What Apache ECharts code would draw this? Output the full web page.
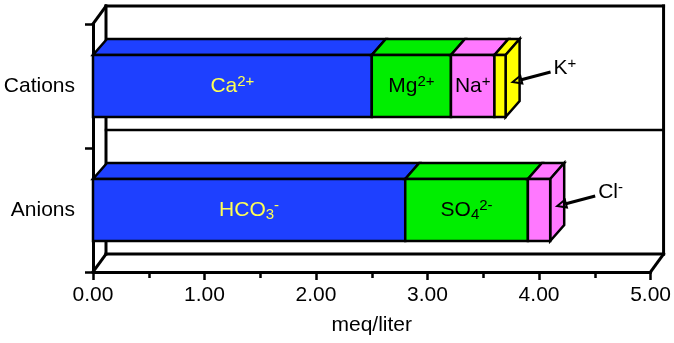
<!DOCTYPE html>
<html>
<head>
<meta charset="utf-8">
<script src="https://cdn.jsdelivr.net/npm/echarts@6/dist/echarts.min.js"></script>
<style>
  html, body { margin: 0; padding: 0; background: #fff; }
  #chart { width: 674px; height: 343px; }
</style>
</head>
<body>
<div id="chart"></div>
<script>
// Ion balance: stacked milliequivalents per litre
const categories = ['Anions', 'Cations'];

const cationLabels = ['{b|Ca}{sup|2+}', '{b|Mg}{sup|2+}', '{b|Na}{sup|+}', '{b|K}{sup|+}'];
const cationValues = [2.50, 0.71, 0.39, 0.10];

const anionLabels = ['{b|HCO}{sub|3}{sup|-}', '{b|SO}{sub|4}{sup|2-}', '{b|Cl}{sup|-}'];
const anionValues = [2.80, 1.10, 0.20];

const xTicks = [0, 1, 2, 3, 4, 5];

// Styling
const FONT = 'Liberation Sans, Arial, Helvetica, sans-serif';
const FS = 21;
const cationColors = ['#1e40ff', '#00ee00', '#ff78ff', '#ffff00'];
const anionColors = ['#1e40ff', '#00ee00', '#ff78ff'];
const cationText = ['#ffff55', '#000', '#000', '#000'];
const anionText = ['#ffff55', '#000', '#000'];
const BAR_RATIO = 0.5;
const BAR_DX = 14, BAR_DY = -16;     // bar depth offset
const WALL_DX = 13, WALL_DY = -18;   // frame depth offset

const rich = {
  b: { fontSize: FS, lineHeight: 24, fontFamily: FONT },
  sup: { fontSize: 15, lineHeight: 16, verticalAlign: 'top', fontFamily: FONT },
  sub: { fontSize: 15, lineHeight: 10, verticalAlign: 'bottom', fontFamily: FONT }
};

// Build stacked segments: [start, end, categoryIndex, segmentIndex]
function stackSegments(values, catIndex) {
  const out = [];
  let acc = 0;
  values.forEach((v, i) => {
    out.push([acc, acc + v, catIndex, i]);
    acc += v;
  });
  return out;
}
const segments = stackSegments(anionValues, 0).concat(stackSegments(cationValues, 1));

const groups = [
  { labels: anionLabels, colors: anionColors, text: anionText, n: anionValues.length },
  { labels: cationLabels, colors: cationColors, text: cationText, n: cationValues.length }
];

function renderBar(params, api) {
  const ci = api.value(2), si = api.value(3);
  const g = groups[ci];
  const p0 = api.coord([api.value(0), ci]);
  const p1 = api.coord([api.value(1), ci]);
  const h = api.size([0, 1])[1] * BAR_RATIO;
  const x0 = p0[0], x1 = p1[0];
  const yt = p0[1] - h / 2, yb = yt + h;
  const fill = g.colors[si];
  const st = { fill: fill, stroke: '#000', lineWidth: 2.5, lineJoin: 'miter' };
  const children = [];
  children.push({
    type: 'polygon',
    shape: { points: [[x0, yt], [x1, yt], [x1 + BAR_DX, yt + BAR_DY], [x0 + BAR_DX, yt + BAR_DY]] },
    style: st
  });
  const last = si === g.n - 1;
  if (last) {
    children.push({
      type: 'polygon',
      shape: { points: [[x1, yt], [x1 + BAR_DX, yt + BAR_DY], [x1 + BAR_DX, yb + BAR_DY], [x1, yb]] },
      style: st
    });
  }
  children.push({
    type: 'rect',
    shape: { x: x0, y: yt, width: x1 - x0, height: h },
    style: st
  });
  if (!last) {
    children.push({
      type: 'text',
      style: {
        x: (x0 + x1) / 2, y: (yt + yb) / 2,
        text: g.labels[si], rich: rich,
        fill: g.text[si], align: 'center', verticalAlign: 'middle',
        fontSize: FS, fontFamily: FONT
      }
    });
  } else {
    const tip = [x1 + BAR_DX / 2, (yt + yb) / 2 + BAR_DY / 4];
    const tail = [tip[0] + 38, tip[1] - 10];
    const ang = Math.atan2(tail[1] - tip[1], tail[0] - tip[0]);
    const L = 9, W = 4;
    const bx = tip[0] + L * Math.cos(ang), by = tip[1] + L * Math.sin(ang);
    const nx = -Math.sin(ang) * W, ny = Math.cos(ang) * W;
    children.push({
      type: 'line',
      shape: { x1: bx, y1: by, x2: tail[0], y2: tail[1] },
      style: { stroke: '#000', lineWidth: 3 }
    });
    children.push({
      type: 'polygon',
      shape: { points: [tip, [bx + nx, by + ny], [bx - nx, by - ny]] },
      style: { fill: 'none', stroke: '#000', lineWidth: 2 }
    });
    children.push({
      type: 'text',
      style: {
        x: tail[0] + 3, y: tail[1] - 4,
        text: g.labels[si], rich: rich,
        fill: '#000', align: 'left', verticalAlign: 'middle',
        fontSize: FS, fontFamily: FONT
      }
    });
  }
  return { type: 'group', children: children };
}

// Box behind the bars: back wall, floor and left wall edges
function renderFrame(params, api) {
  const cs = params.coordSys;
  const x0 = cs.x, x1 = cs.x + cs.width, y0 = cs.y, y1 = cs.y + cs.height;
  const ym = (y0 + y1) / 2;
  const dx = WALL_DX, dy = WALL_DY;
  const ln = (a, b, c, d, w) => ({
    type: 'line', shape: { x1: a, y1: b, x2: c, y2: d },
    style: { stroke: '#000', lineWidth: w || 3, lineCap: 'square' }
  });
  return {
    type: 'group',
    children: [
      ln(x0 + dx, y0 + dy, x1 + dx, y0 + dy),
      ln(x1 + dx, y0 + dy, x1 + dx, y1 + dy),
      ln(x0 + dx, y0 + dy, x0 + dx, y1 + dy),
      ln(x0 + dx, y1 + dy, x1 + dx, y1 + dy),
      ln(x0 + dx, ym + dy, x1 + dx, ym + dy, 2.5),
      ln(x0, y0, x0 + dx, y0 + dy),
      ln(x0, y1, x0 + dx, y1 + dy),
      ln(x1, y1, x1 + dx, y1 + dy)
    ]
  };
}

const chart = echarts.init(document.getElementById('chart'), null, { renderer: 'canvas' });
chart.setOption({
  animation: false,
  backgroundColor: '#fff',
  grid: { left: 93, right: 21, top: 24, bottom: 71, containLabel: false },
  xAxis: {
    type: 'value',
    min: xTicks[0], max: xTicks[xTicks.length - 1], interval: 1,
    name: 'meq/liter', nameLocation: 'middle', nameGap: 43,
    nameTextStyle: { fontSize: FS, color: '#000', fontFamily: FONT },
    axisLine: { show: true, lineStyle: { color: '#000', width: 3 } },
    axisTick: { show: true, length: 8, lineStyle: { color: '#000', width: 2.5 } },
    minorTick: { show: true, splitNumber: 2, length: 6, lineStyle: { color: '#000', width: 2.5 } },
    splitLine: { show: false },
    axisLabel: { fontSize: FS, color: '#000', fontFamily: FONT, margin: 13,
                 formatter: v => v.toFixed(2) }
  },
  yAxis: {
    type: 'category',
    data: categories,
    axisLine: { show: true, lineStyle: { color: '#000', width: 3 } },
    axisTick: { show: true, length: 8, lineStyle: { color: '#000', width: 2.5 } },
    splitLine: { show: false },
    axisLabel: { fontSize: FS, color: '#000', fontFamily: FONT, margin: 18 }
  },
  series: [
    {
      type: 'custom', name: 'frame', silent: true, z: 1,
      renderItem: renderFrame, data: [[0, 0]]
    },
    {
      type: 'custom', name: 'ions', silent: true, z: 3,
      renderItem: renderBar,
      encode: { x: [0, 1], y: 2 },
      data: segments
    }
  ]
});
</script>
</body>
</html>
